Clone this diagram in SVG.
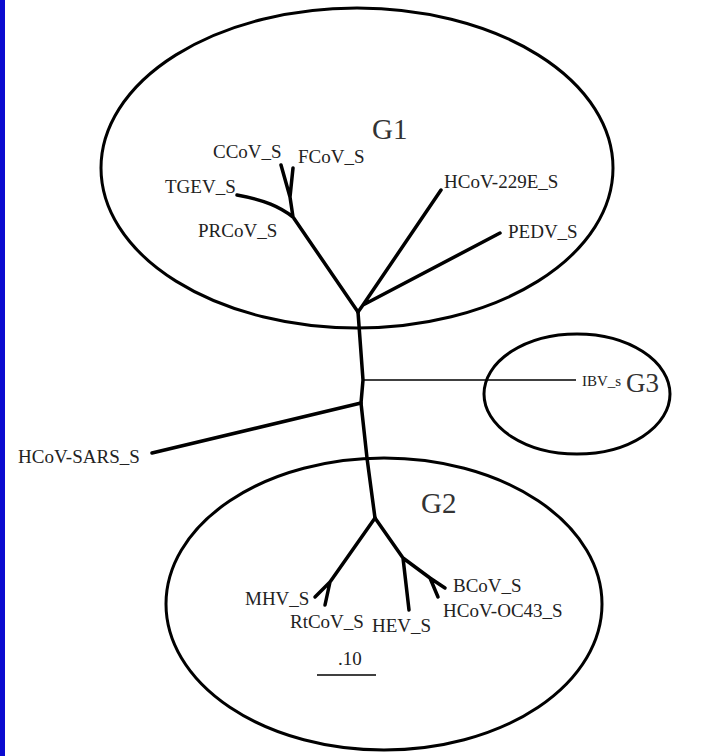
<svg xmlns="http://www.w3.org/2000/svg" width="728" height="756" viewBox="0 0 728 756">
<style>
.bg{fill:#ffffff}
.grp{fill:none;stroke:#000;stroke-width:3}
.br{fill:none;stroke:#000;stroke-width:3.5;stroke-linecap:round;stroke-linejoin:round}
.thin{fill:none;stroke:#000;stroke-width:1.6}
.lbl{font-family:"Liberation Serif","Times New Roman",serif;font-size:19px;fill:#222}
.big{font-family:"Liberation Serif","Times New Roman",serif;font-size:29px;fill:#333}
</style>
<rect class="bg" x="0" y="0" width="728" height="756"/>
<rect x="0" y="0" width="5" height="756" fill="#0b0bd0"/>
<g id="G1">
<ellipse class="grp" cx="357" cy="168" rx="256" ry="160"/>
<text class="big" x="372" y="139">G1</text>
</g>
<g id="G3">
<ellipse class="grp" cx="577" cy="394" rx="93" ry="60"/>
<text class="big" x="626" y="392" style="font-size:27px">G3</text>
</g>
<g id="G2">
<ellipse class="grp" cx="384" cy="604" rx="218" ry="146"/>
<text class="big" x="421" y="513">G2</text>
</g>
<g id="connectors">
<path class="br" d="M358,312 L363,380 L361,403 L367,458 L375,518"/>
<path class="br" d="M358,312 L293,217 M293,217 L290,197 M290,197 L281,165 M290,197 L293,168 M293,217 C280,207 265,200 237,195"/>
<path class="br" d="M358,312 L363,305 M363,305 L441,190 M363,305 L500,233"/>
<path class="br" d="M361,403 L152,453"/>
<path class="thin" d="M363,380 L576,380"/>
<path class="br" d="M375,518 L330,582 M330,582 L315,597 M330,582 L325,605"/>
<path class="br" d="M375,518 L403,558 M403,558 L409,610 M403,558 L430,578 M430,578 L445,588 M430,578 L438,597"/>
<path class="thin" d="M317,675 L376,675" stroke-width="2"/>
</g>
<g id="labels">
<text class="lbl" x="213" y="158">CCoV_S</text>
<text class="lbl" x="298" y="163">FCoV_S</text>
<text class="lbl" x="165" y="193">TGEV_S</text>
<text class="lbl" x="198" y="237">PRCoV_S</text>
<text class="lbl" x="444" y="188">HCoV-229E_S</text>
<text class="lbl" x="508" y="238">PEDV_S</text>
<text class="lbl" x="18" y="463">HCoV-SARS_S</text>
<text class="lbl" x="582" y="386" style="font-size:15px">IBV_s</text>
<text class="lbl" x="245" y="605">MHV_S</text>
<text class="lbl" x="290" y="628">RtCoV_S</text>
<text class="lbl" x="372" y="632">HEV_S</text>
<text class="lbl" x="453" y="592">BCoV_S</text>
<text class="lbl" x="443" y="617">HCoV-OC43_S</text>
<text class="lbl" x="338" y="665">.10</text>
</g>
</svg>
